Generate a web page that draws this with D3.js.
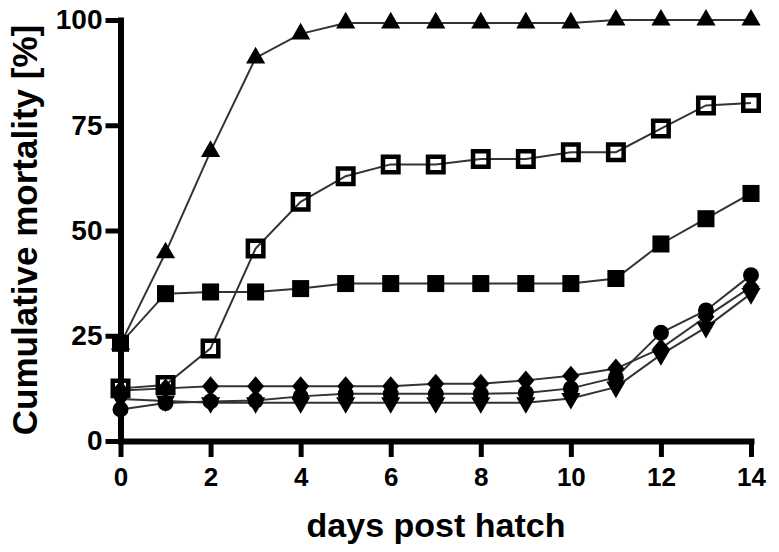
<!DOCTYPE html>
<html>
<head>
<meta charset="utf-8">
<script src="https://cdn.jsdelivr.net/npm/d3@7"></script>
<style>
  body { margin: 0; background: #fff; }
  svg text { font-family: "Liberation Sans", Arial, sans-serif; font-weight: bold; fill: #000; }
</style>
</head>
<body>
<div id="chart"></div>
<script>
// days post hatch
var days = [0, 1, 2, 3, 4, 5, 6, 7, 8, 9, 10, 11, 12, 13, 14];
var xTicks = [0, 2, 4, 6, 8, 10, 12, 14];
var yTicks = [0, 25, 50, 75, 100];

// cumulative mortality [%] per group
var triUp      = [23, 44.7, 68.8, 91, 96.7, 99.3, 99.3, 99.3, 99.3, 99.3, 99.3, 100, 100, 100, 100];
var openSquare = [12.5, 13.3, 22, 45.7, 56.8, 62.9, 65.7, 65.7, 67, 67, 68.6, 68.6, 74.2, 79.7, 80.3];
var fillSquare = [23.2, 35, 35.4, 35.4, 36.2, 37.4, 37.4, 37.4, 37.4, 37.4, 37.4, 38.6, 46.8, 52.8, 58.8];
var diamond    = [12, 12.5, 13, 13, 13, 13, 13, 13.6, 13.6, 14.4, 15.5, 17.2, 22, 29.5, 36.6];
var circle     = [7.5, 9, 9.4, 9.6, 10.6, 11.2, 11.2, 11.2, 11.2, 11.4, 12.5, 15.1, 25.7, 31, 39.4];
var triDown    = [10, 9.5, 9.1, 9.1, 9.1, 9.1, 9.1, 9.1, 9.1, 9.1, 10.1, 12.8, 20.5, 27, 35];

var width = 779, height = 552;
var svg = d3.select('#chart').append('svg')
  .attr('width', width)
  .attr('height', height);

var x = d3.scaleLinear().domain([0, 14]).range([120.5, 751]);
var y = d3.scaleLinear().domain([0, 100]).range([441, 20]);

var series = [
  {values: circle, shape: 'circle'},
  {values: triDown, shape: 'triDown'},
  {values: diamond, shape: 'diamond'},
  {values: fillSquare, shape: 'square'},
  {values: openSquare, shape: 'openSquare'},
  {values: triUp, shape: 'triUp'}
];

var line = d3.line()
  .x(function(d, i) { return x(days[i]); })
  .y(function(d) { return y(d); });

// connecting lines first
svg.append('g').selectAll('path')
  .data(series)
  .enter()
  .append('path')
  .attr('d', function(s) { return line(s.values); })
  .attr('fill', 'none')
  .attr('stroke', '#333')
  .attr('stroke-width', 2);

function symbolPath(shape) {
  if (shape === 'circle') return d3.symbol().type(d3.symbolCircle).size(200)();
  if (shape === 'square') return d3.symbol().type(d3.symbolSquare).size(290)();
  if (shape === 'openSquare') return d3.symbol().type(d3.symbolSquare).size(240)();
  if (shape === 'triUp' || shape === 'triDown') return d3.symbol().type(d3.symbolTriangle).size(160)();
  if (shape === 'diamond') return 'M0,-10L8.5,0L0,10L-8.5,0Z';
}

series.forEach(function(s) {
  svg.append('g').selectAll('path')
    .data(s.values)
    .enter()
    .append('path')
    .attr('d', symbolPath(s.shape))
    .attr('transform', function(d, i) {
      var t = 'translate(' + x(days[i]) + ',' + y(d) + ')';
      return s.shape === 'triDown' ? t + ' rotate(180)' : t;
    })
    .attr('fill', s.shape === 'openSquare' ? 'none' : '#000')
    .attr('stroke', s.shape === 'openSquare' ? '#000' : 'none')
    .attr('stroke-width', 4.5);
});

// axes
var xAxis = svg.append('g')
  .attr('transform', 'translate(0,441)')
  .call(d3.axisBottom(x).tickValues(xTicks).tickSizeInner(16).tickSizeOuter(0).tickPadding(11));
var yAxis = svg.append('g')
  .attr('transform', 'translate(120.5,0)')
  .call(d3.axisLeft(y).tickValues(yTicks).tickSizeInner(15).tickSizeOuter(0).tickPadding(3));

xAxis.select('.domain').attr('stroke', '#000').attr('stroke-width', 6).attr('stroke-linecap', 'square');
yAxis.select('.domain').attr('stroke', '#000').attr('stroke-width', 6).attr('stroke-linecap', 'square');
xAxis.selectAll('.tick line').attr('stroke', '#000').attr('stroke-width', 5);
yAxis.selectAll('.tick line').attr('stroke', '#000').attr('stroke-width', 5);
xAxis.selectAll('.tick text').style('font-size', '26px').attr('fill', '#000');
yAxis.selectAll('.tick text').style('font-size', '28px').attr('fill', '#000');

// axis titles
svg.append('text')
  .attr('x', 436)
  .attr('y', 537)
  .attr('text-anchor', 'middle')
  .style('font-size', '34px')
  .text('days post hatch');

svg.append('text')
  .attr('transform', 'translate(37,230) rotate(-90)')
  .attr('text-anchor', 'middle')
  .style('font-size', '35px')
  .text('Cumulative mortality [%]');
</script>
</body>
</html>
